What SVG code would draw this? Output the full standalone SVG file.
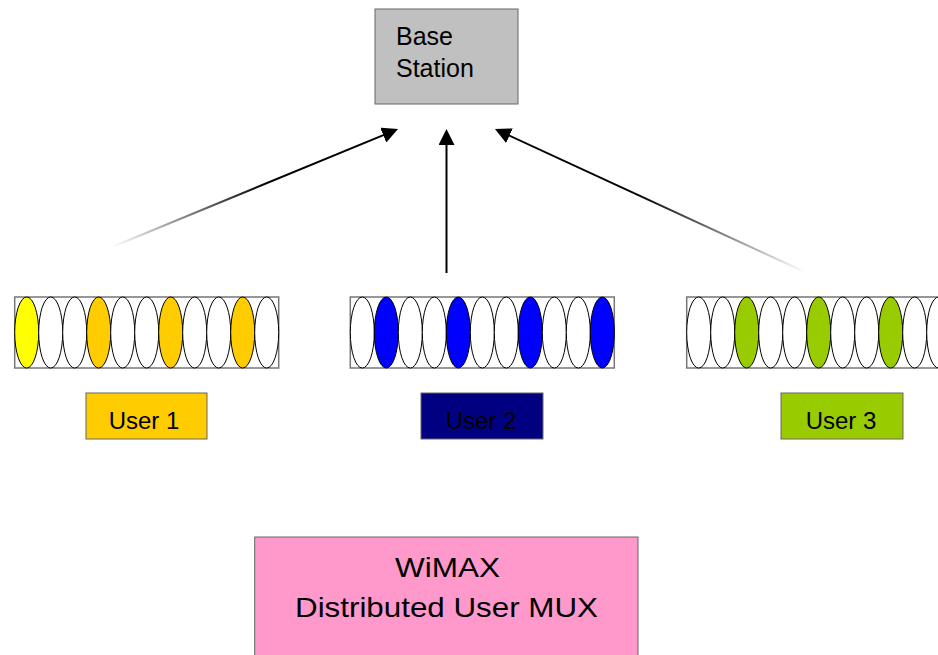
<svg xmlns="http://www.w3.org/2000/svg" width="938" height="655" viewBox="0 0 938 655">
<style>
text{font-family:"Liberation Sans",Arial,sans-serif;fill:#000}
.strip{fill:#fff;stroke:#777;stroke-width:1.5}
.cell{stroke:#000;stroke-width:1}
.w{fill:#fff}
.box{stroke:#666;stroke-width:1}
.conn{fill:none;stroke-width:2}
</style>
<defs>
<marker id="ah" markerUnits="userSpaceOnUse" markerWidth="16" markerHeight="16" refX="10" refY="8" orient="auto">
<path d="M0,0 L16,8 L0,16 z" fill="#000"/>
</marker>
<linearGradient id="gL" gradientUnits="userSpaceOnUse" x1="112" y1="247" x2="392" y2="131">
<stop offset="0" stop-color="#fff"/><stop offset="0.55" stop-color="#000"/><stop offset="1" stop-color="#000"/>
</linearGradient>
<linearGradient id="gR" gradientUnits="userSpaceOnUse" x1="805" y1="272" x2="500" y2="131">
<stop offset="0" stop-color="#fff"/><stop offset="0.55" stop-color="#000"/><stop offset="1" stop-color="#000"/>
</linearGradient>
</defs>

<g id="connectors">
<line class="conn" x1="112" y1="247" x2="392.5" y2="131.3" stroke="url(#gL)" marker-end="url(#ah)"/>
<line class="conn" x1="446.5" y1="273" x2="446.5" y2="135" stroke="#000" stroke-width="2.5" marker-end="url(#ah)"/>
<line class="conn" x1="805" y1="272" x2="500.4" y2="131.5" stroke="url(#gR)" marker-end="url(#ah)"/>
</g>

<g id="base-station">
<rect class="box" x="375" y="9" width="143" height="95" fill="#C0C0C0"/>
<text x="396" y="45" font-size="25">Base</text>
<text x="396" y="77" font-size="25">Station</text>
</g>

<g id="strip-user1">
<rect class="strip" x="14.7" y="297" width="264" height="71"/>
<ellipse class="cell" cx="26.7" cy="332.5" rx="12" ry="35.5" fill="#FFFF00"/>
<ellipse class="cell w" cx="50.7" cy="332.5" rx="12" ry="35.5"/>
<ellipse class="cell w" cx="74.7" cy="332.5" rx="12" ry="35.5"/>
<ellipse class="cell" cx="98.7" cy="332.5" rx="12" ry="35.5" fill="#FFCC00"/>
<ellipse class="cell w" cx="122.7" cy="332.5" rx="12" ry="35.5"/>
<ellipse class="cell w" cx="146.7" cy="332.5" rx="12" ry="35.5"/>
<ellipse class="cell" cx="170.7" cy="332.5" rx="12" ry="35.5" fill="#FFCC00"/>
<ellipse class="cell w" cx="194.7" cy="332.5" rx="12" ry="35.5"/>
<ellipse class="cell w" cx="218.7" cy="332.5" rx="12" ry="35.5"/>
<ellipse class="cell" cx="242.7" cy="332.5" rx="12" ry="35.5" fill="#FFCC00"/>
<ellipse class="cell w" cx="266.7" cy="332.5" rx="12" ry="35.5"/>
</g>

<g id="strip-user2">
<rect class="strip" x="350.3" y="297" width="264" height="71"/>
<ellipse class="cell w" cx="362.3" cy="332.5" rx="12" ry="35.5"/>
<ellipse class="cell" cx="386.3" cy="332.5" rx="12" ry="35.5" fill="#0000FF"/>
<ellipse class="cell w" cx="410.3" cy="332.5" rx="12" ry="35.5"/>
<ellipse class="cell w" cx="434.3" cy="332.5" rx="12" ry="35.5"/>
<ellipse class="cell" cx="458.3" cy="332.5" rx="12" ry="35.5" fill="#0000FF"/>
<ellipse class="cell w" cx="482.3" cy="332.5" rx="12" ry="35.5"/>
<ellipse class="cell w" cx="506.3" cy="332.5" rx="12" ry="35.5"/>
<ellipse class="cell" cx="530.3" cy="332.5" rx="12" ry="35.5" fill="#0000FF"/>
<ellipse class="cell w" cx="554.3" cy="332.5" rx="12" ry="35.5"/>
<ellipse class="cell w" cx="578.3" cy="332.5" rx="12" ry="35.5"/>
<ellipse class="cell" cx="602.3" cy="332.5" rx="12" ry="35.5" fill="#0000FF"/>
</g>

<g id="strip-user3">
<rect class="strip" x="686.7" y="297" width="264" height="71"/>
<ellipse class="cell w" cx="698.7" cy="332.5" rx="12" ry="35.5"/>
<ellipse class="cell w" cx="722.7" cy="332.5" rx="12" ry="35.5"/>
<ellipse class="cell" cx="746.7" cy="332.5" rx="12" ry="35.5" fill="#99CC00"/>
<ellipse class="cell w" cx="770.7" cy="332.5" rx="12" ry="35.5"/>
<ellipse class="cell w" cx="794.7" cy="332.5" rx="12" ry="35.5"/>
<ellipse class="cell" cx="818.7" cy="332.5" rx="12" ry="35.5" fill="#99CC00"/>
<ellipse class="cell w" cx="842.7" cy="332.5" rx="12" ry="35.5"/>
<ellipse class="cell w" cx="866.7" cy="332.5" rx="12" ry="35.5"/>
<ellipse class="cell" cx="890.7" cy="332.5" rx="12" ry="35.5" fill="#99CC00"/>
<ellipse class="cell w" cx="914.7" cy="332.5" rx="12" ry="35.5"/>
<ellipse class="cell w" cx="938.7" cy="332.5" rx="12" ry="35.5"/>
</g>

<g id="user1">
<rect class="box" x="86" y="393" width="121" height="46" fill="#FFCC00"/>
<text x="144" y="429" font-size="24" text-anchor="middle">User 1</text>
</g>
<g id="user2">
<rect class="box" x="421" y="393" width="122" height="46" fill="#000080"/>
<text x="481" y="429" font-size="24" text-anchor="middle">User 2</text>
</g>
<g id="user3">
<rect class="box" x="781" y="393" width="122" height="46" fill="#99CC00"/>
<text x="841" y="429" font-size="24" text-anchor="middle">User 3</text>
</g>

<g id="wimax">
<rect class="box" x="254.7" y="537" width="383.3" height="130" fill="#FF99CC"/>
<text x="447.5" y="577" font-size="28" text-anchor="middle" textLength="105" lengthAdjust="spacingAndGlyphs">WiMAX</text>
<text x="446.5" y="617" font-size="28" text-anchor="middle" textLength="303" lengthAdjust="spacingAndGlyphs">Distributed User MUX</text>
</g>
</svg>
